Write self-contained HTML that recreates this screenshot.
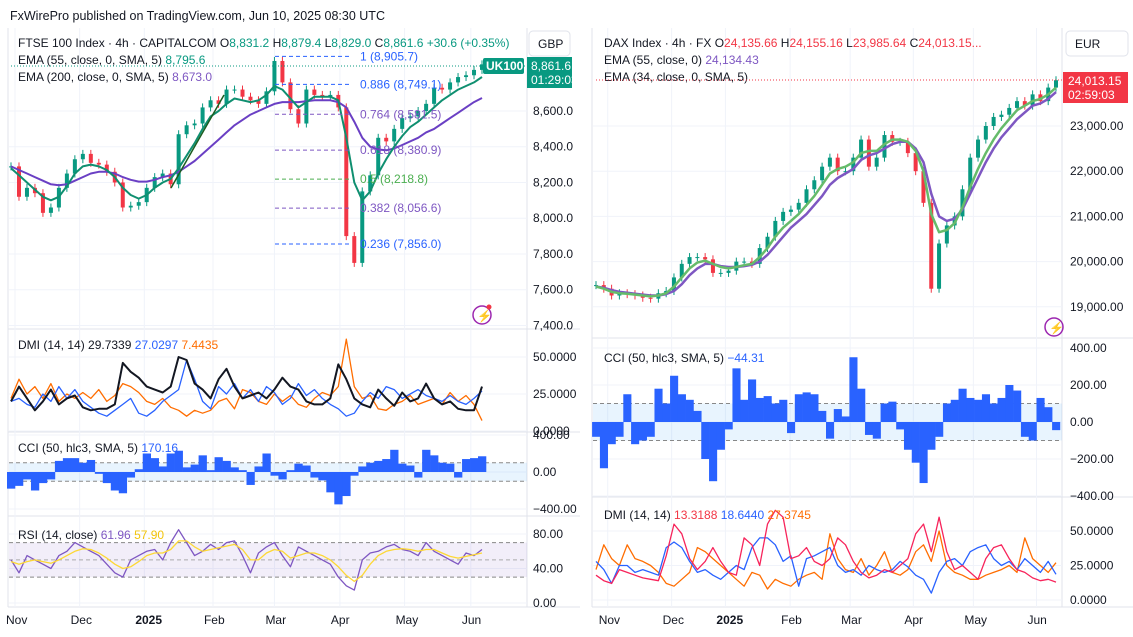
<!DOCTYPE html>
<html><head><meta charset="utf-8">
<style>
html,body{margin:0;padding:0;background:#fff;}
svg{display:block;font-family:"Liberation Sans",sans-serif;}
text{font-size:12px;fill:#131722;}
</style></head>
<body>
<svg id="c" width="1133" height="637" viewBox="0 0 1133 637" xmlns="http://www.w3.org/2000/svg">
<rect x="0" y="0" width="1133" height="637" fill="#fff"/>
<text x="10" y="20" style="font-size:12.5px">FxWirePro published on TradingView.com, Jun 10, 2025 08:30 UTC</text>
<g id="grid"></g>
<g id="marks"></g>
<g id="labels"></g>
<text x="18" y="47">FTSE 100 Index · 4h · CAPITALCOM <tspan>O</tspan><tspan fill="#089981">8,831.2</tspan> H<tspan fill="#089981">8,879.4</tspan> L<tspan fill="#089981">8,829.0</tspan> C<tspan fill="#089981">8,861.6 +30.6 (+0.35%)</tspan></text>
<text x="18" y="64">EMA (55, close, 0, SMA, 5) <tspan fill="#089981">8,795.6</tspan></text>
<text x="18" y="81">EMA (200, close, 0, SMA, 5) <tspan fill="#7e57c2">8,673.0</tspan></text>
<text x="18" y="349">DMI (14, 14) <tspan>29.7339</tspan> <tspan fill="#2962ff">27.0297</tspan> <tspan fill="#ff6d00">7.4435</tspan></text>
<text x="18" y="452">CCI (50, hlc3, SMA, 5) <tspan fill="#2962ff">170.16</tspan></text>
<text x="18" y="539">RSI (14, close) <tspan fill="#7e57c2">61.96</tspan> <tspan fill="#f2c40c">57.90</tspan></text>
<text x="604" y="47">DAX Index · 4h · FX O<tspan fill="#f23645">24,135.66</tspan> H<tspan fill="#f23645">24,155.16</tspan> L<tspan fill="#f23645">23,985.64</tspan> C<tspan fill="#f23645">24,013.15...</tspan></text>
<text x="604" y="64">EMA (55, close, 0) <tspan fill="#7e57c2">24,134.43</tspan></text>
<text x="604" y="81">EMA (34, close, 0, SMA, 5)</text>
<text x="604" y="362">CCI (50, hlc3, SMA, 5) <tspan fill="#2962ff">−44.31</tspan></text>
<text x="604" y="519">DMI (14, 14) <tspan fill="#f23645">13.3188</tspan> <tspan fill="#2962ff">18.6440</tspan> <tspan fill="#ff6d00">27.3745</tspan></text>
<rect x="529" y="31" width="41" height="25" rx="4" fill="#fff" stroke="#e0e3eb"/>
<text x="538" y="48">GBP</text>
<rect x="1066" y="31" width="62" height="25" rx="4" fill="#fff" stroke="#e0e3eb"/>
<text x="1075" y="48">EUR</text>
<line x1="11" y1="66" x2="527" y2="66" stroke="#089981" stroke-dasharray="1,2"/>
<rect x="483" y="58" width="41" height="16" rx="2" fill="#089981"/>
<text x="486" y="70" style="fill:#fff;font-weight:bold">UK100</text>
<rect x="527" y="57" width="45" height="31" fill="#089981"/>
<text x="531" y="70" style="fill:#fff">8,861.6</text>
<text x="531" y="84" style="fill:#fff">01:29:03</text>
<line x1="596" y1="80" x2="1062" y2="80" stroke="#f23645" stroke-dasharray="1,2"/>
<rect x="1063" y="72" width="65" height="31" fill="#f23645"/>
<text x="1068" y="85" style="fill:#fff">24,013.15</text>
<text x="1068" y="99" style="fill:#fff">02:59:03</text>
<circle cx="482" cy="315" r="9" fill="none" stroke="#9c27b0" stroke-width="1.5"/>
<text x="477" y="320" style="fill:#9c27b0;font-size:12px">⚡</text>
<circle cx="489" cy="307" r="2.5" fill="#f23645"/>
<circle cx="1054" cy="327" r="9" fill="none" stroke="#9c27b0" stroke-width="1.5"/>
<text x="1049" y="332" style="fill:#9c27b0">⚡</text>
</svg>
<script>
const ftseClose=[8290,8120,8170,8140,8030,8060,8170,8250,8330,8360,8310,8300,8260,8200,8060,8070,8090,8170,8230,8250,8190,8470,8520,8530,8620,8660,8640,8720,8720,8680,8660,8640,8710,8880,8760,8610,8530,8720,8690,8680,8690,8620,7900,7750,8150,8240,8450,8430,8500,8560,8570,8600,8640,8730,8720,8760,8790,8800,8830,8861];
const ftseEma55=[8280,8240,8200,8160,8120,8100,8120,8180,8250,8290,8300,8290,8270,8230,8170,8130,8110,8130,8170,8200,8220,8280,8350,8420,8500,8570,8600,8640,8670,8660,8650,8660,8690,8740,8720,8670,8620,8650,8680,8680,8680,8660,8450,8200,8100,8150,8250,8330,8400,8460,8510,8540,8580,8620,8660,8690,8720,8740,8760,8790];
const ftseEma200=[8290,8270,8250,8230,8210,8190,8185,8190,8210,8230,8250,8260,8260,8250,8230,8215,8205,8205,8215,8230,8240,8260,8290,8320,8360,8400,8440,8480,8520,8550,8580,8600,8620,8640,8650,8650,8650,8655,8660,8660,8660,8650,8620,8540,8450,8400,8385,8380,8390,8410,8430,8450,8480,8500,8530,8560,8590,8620,8650,8673];
const fibRatios=["1","0.886","0.764","0.618","0.5","0.382","0.236"];
const fibValues=[8905.7,8749.1,8581.5,8380.9,8218.8,8056.6,7856.0];
const fibColors=["#2962ff","#2962ff","#7e57c2","#7e57c2","#4caf50","#7e57c2","#2962ff"];
const dmiAdxL=[20,30,22,14,20,28,18,22,24,16,14,15,15,18,46,40,36,30,28,26,30,50,48,32,28,22,35,42,30,22,24,26,22,28,36,30,28,20,18,18,22,45,35,22,18,16,28,22,17,26,20,22,32,22,18,20,15,14,14,30];
const dmiPlusL=[20,22,18,16,25,20,30,22,28,20,16,12,10,14,18,22,12,10,14,20,24,28,48,35,20,15,30,25,32,22,28,20,30,26,18,22,32,24,28,22,18,15,10,12,20,26,22,30,28,22,25,28,24,22,20,24,20,18,22,27];
const dmiMinusL=[22,35,25,30,22,32,20,25,22,26,22,28,20,24,32,30,26,20,18,22,16,14,10,14,12,14,20,22,15,28,26,20,18,25,20,24,18,16,22,26,24,30,62,30,22,24,15,14,18,20,24,18,20,22,18,26,20,24,18,7];
const cciL=[-180,-150,-80,-200,-120,-80,120,150,150,100,130,-20,-120,-200,-230,-60,30,200,150,60,200,230,50,80,180,20,160,120,50,20,-140,60,200,-40,-80,20,90,70,-60,-90,-220,-350,-260,-40,60,100,120,140,240,90,70,-60,240,180,100,90,-60,140,150,170];
const rsiL=[50,35,55,50,45,40,55,60,70,65,60,55,45,35,30,50,55,60,62,50,70,85,70,55,60,68,62,70,72,55,35,58,65,70,55,42,65,60,55,50,45,30,20,15,50,58,60,65,68,62,60,55,70,60,55,50,45,58,55,62];
const rsiMaL=[48,45,48,50,48,46,50,55,60,63,62,58,52,45,40,42,48,55,58,58,62,72,72,65,60,62,64,66,68,62,50,50,58,62,60,52,55,58,58,55,50,42,32,25,32,45,55,60,62,63,62,60,62,62,58,54,52,54,56,58];
const ftsePriceTicks=[8600,8400,8200,8000,7800,7600,7400];
const ftsePriceTickLabels=["8,600.0","8,400.0","8,200.0","8,000.0","7,800.0","7,600.0","7,400.0"];
const dmiTicks=[50,25,0];
const dmiTickLabels=["50.0000","25.0000","0.0000"];
const cciTicks=[400,0,-400];
const cciTickLabels=["400.00","0.00","−400.00"];
const rsiTicks=[80,40,0];
const rsiTickLabels=["80.00","40.00","0.00"];
const monthLabels=["Nov","Dec","2025","Feb","Mar","Apr","May","Jun"];
const monthPosL=[0.5,8.6,16.7,25.3,33.0,41.2,49.3,57.6];
const daxClose=[19480,19400,19250,19300,19280,19250,19200,19180,19300,19350,19650,19950,20100,20100,20050,19750,19750,19800,20000,20000,19950,20300,20550,20900,21100,21150,21300,21600,21800,22100,22300,22000,22000,22300,22700,22100,22300,22800,22650,22650,22400,22000,21300,19400,20400,20800,21000,21600,22300,22700,23000,23200,23250,23400,23550,23450,23700,23550,23850,24013];
const daxEma34=[19450,19400,19330,19300,19290,19270,19250,19230,19250,19300,19450,19650,19850,19980,20020,19950,19880,19850,19880,19920,19950,20100,20300,20550,20750,20900,21050,21250,21450,21700,21950,22050,22100,22200,22400,22450,22450,22600,22700,22700,22650,22450,22000,21050,20650,20700,20850,21200,21650,22050,22400,22700,22950,23150,23350,23450,23550,23600,23700,23850];
const daxEma55=[19450,19420,19370,19330,19310,19290,19270,19250,19250,19280,19350,19500,19700,19850,19950,19950,19900,19880,19880,19900,19930,20000,20150,20350,20550,20750,20900,21050,21250,21450,21700,21850,21950,22050,22250,22350,22400,22500,22600,22650,22650,22500,22200,21500,21000,20900,20950,21150,21500,21850,22200,22500,22750,22950,23150,23300,23450,23500,23600,23750];
const cciR=[-80,-250,-120,-80,150,-120,-100,-80,180,100,250,150,120,60,-200,-320,-150,-40,290,120,230,130,140,100,120,-60,150,160,150,60,-90,70,30,350,180,-70,-90,100,110,-40,-150,-220,-330,-150,-80,100,120,180,130,120,150,100,130,200,170,-80,-100,130,80,-44];
const dmiRedR=[18,14,12,22,20,18,16,15,14,32,55,48,30,22,28,38,28,20,18,45,40,25,55,65,60,30,32,38,28,25,30,45,40,28,20,16,18,22,20,25,30,48,55,35,60,35,22,25,20,15,30,38,40,30,22,20,16,14,15,13];
const dmiBlueR=[28,22,12,25,25,20,22,20,18,38,42,38,28,20,22,18,15,20,25,22,38,45,45,40,28,32,10,30,32,35,38,25,20,22,18,25,22,20,22,28,24,18,15,5,20,28,30,25,35,38,40,30,25,28,22,30,25,20,28,18.6];
const dmiOrangeR=[22,40,30,25,40,30,28,25,20,12,10,15,20,38,35,30,25,20,15,10,20,18,8,15,12,10,15,18,20,15,48,30,22,20,30,18,25,35,20,18,22,35,40,28,50,25,20,18,15,15,18,20,22,25,20,45,30,25,20,27];
const daxPriceTicks=[23000,22000,21000,20000,19000];
const daxPriceTickLabels=["23,000.00","22,000.00","21,000.00","20,000.00","19,000.00"];
const cciTicksR=[400,200,0,-200,-400];
const cciTickLabelsR=["400.00","200.00","0.00","−200.00","−400.00"];
const dmiTicksR=[50,25,0];
const dmiTickLabelsR=["50.0000","25.0000","0.0000"];
const monthPosR=[1.5,9.7,16.6,24.9,32.6,40.7,48.4,56.5];

const N=60;
const xL=i=>11+i*(471/(N-1));
const yPL=v=>111+(8600-v)*0.1787;
const yDL=v=>431-v*1.48;
const yCL=v=>472-v*0.0925;
const yRL=v=>603-v*0.8625;
const xR=i=>596+i*(460/(N-1));
const yPR=v=>126+(23000-v)*0.0452;
const yCR=v=>422-v*0.185;
const yDR=v=>600-v*1.38;

const NS="http://www.w3.org/2000/svg";
const grid=document.getElementById('grid');
const marks=document.getElementById('marks');
const labels=document.getElementById('labels');
function mk(tag,attrs,parent){const e=document.createElementNS(NS,tag);for(const k in attrs)e.setAttribute(k,attrs[k]);parent.appendChild(e);return e;}

[[8,329],[8,432],[8,516],[8,607]].forEach(s=>{
  const l=mk('line',{x1:s[0],y1:s[1],x2:580,y2:s[1],stroke:'#e0e3eb'},grid);
  
  
});
[[338],[497],[607]].forEach(s=>{
  const l=mk('line',{x1:592,y1:s[0],x2:1133,y2:s[0],stroke:'#e0e3eb'},grid);
  
  
});
[[527,28,607],[8,28,607],[1062,28,607],[592,28,607]].forEach(s=>{
  const l=mk('line',{x1:s[0],y1:s[1],x2:s[0],y2:s[2],stroke:'#e0e3eb'},grid);
  
  
});
monthPosL.forEach(p=>{
  const l=mk('line',{x1:xL(p),y1:28,x2:xL(p),y2:607,stroke:'#f0f3fa'},grid);
  
  
});
monthPosR.forEach(p=>{
  const l=mk('line',{x1:xR(p),y1:28,x2:xR(p),y2:607,stroke:'#f0f3fa'},grid);
  
  
});
function hticks(ticks,lbls,yf,x0,x1,lx,name){
  ticks.forEach((t,k)=>{
    const l=mk('line',{x1:x0,y1:yf(t),x2:x1,y2:yf(t),stroke:'#f0f3fa'},grid);
    
    
    const tx=mk('text',{x:lx,y:yf(t)+4},labels);
    tx.textContent=lbls[k];
    
    
  });
}
hticks(ftsePriceTicks,ftsePriceTickLabels,yPL,9,527,533,'ftse-price');
hticks(dmiTicks,dmiTickLabels,yDL,9,527,533,'dmi-left');
hticks(cciTicks,cciTickLabels,yCL,9,527,533,'cci-left');
hticks(rsiTicks,rsiTickLabels,yRL,9,527,533,'rsi');
hticks(daxPriceTicks,daxPriceTickLabels,yPR,593,1062,1070,'dax-price');
hticks(cciTicksR,cciTickLabelsR,yCR,593,1062,1070,'cci-right');
hticks(dmiTicksR,dmiTickLabelsR,yDR,593,1062,1070,'dmi-right');
monthLabels.forEach((m,k)=>{
  const a=mk('text',{x:xL(monthPosL[k])-9,y:624},labels);
  a.textContent=m;
  if(m==='2025')a.setAttribute('font-weight','bold');
  
  
  const b=mk('text',{x:xR(monthPosR[k])-9,y:624},labels);
  b.textContent=m;
  if(m==='2025')b.setAttribute('font-weight','bold');
  
  
});

function band(x0,x1,y0,y1,fill,name){
  const r=mk('rect',{x:x0,y:Math.min(y0,y1),width:x1-x0,height:Math.abs(y1-y0),fill:fill},grid);
  
  
  [y0,y1].forEach(y=>{
    const l=mk('line',{x1:x0,y1:y,x2:x1,y2:y,stroke:'#888','stroke-dasharray':'4,3'},grid);
    
    
  });
}
band(9,527,yCL(100),yCL(-100),'rgba(33,150,243,0.1)','cci-band-left');
band(9,527,yRL(70),yRL(30),'rgba(126,87,194,0.1)','rsi-band');
const mid=mk('line',{x1:9,y1:yRL(50),x2:527,y2:yRL(50),stroke:'#aaa','stroke-dasharray':'4,3'},grid);


band(593,1062,yCR(100),yCR(-100),'rgba(33,150,243,0.1)','cci-band-right');

function candles(cl,xf,yf,name){
  for(let i=0;i<cl.length;i++){
    const o=i?cl[i-1]:cl[i], c=cl[i];
    const up=c>=o, col=up?'#089981':'#f23645';
    const yt=yf(Math.max(o,c)), yb=yf(Math.min(o,c));
    const w=mk('line',{x1:xf(i),y1:yt-4,x2:xf(i),y2:yb+4,stroke:col},marks);
    
    
    const b=mk('rect',{x:xf(i)-2,y:yt,width:4,height:Math.max(1,yb-yt),fill:col},marks);
    
    
  }
}
function line(arr,xf,yf,col,w,name){
  const p=mk('polyline',{points:arr.map((v,i)=>xf(i).toFixed(1)+','+yf(v).toFixed(1)).join(' '),fill:'none',stroke:col,'stroke-width':w,'stroke-linejoin':'round'},marks);
  
  
}
function bars(arr,xf,yf,col,name){
  const bw=xf(1)-xf(0);
  arr.forEach((v,i)=>{
    const y0=yf(0),y1=yf(v);
    const r=mk('rect',{x:xf(i)-bw/2,y:Math.min(y0,y1),width:bw+0.3,height:Math.abs(y1-y0),fill:col},marks);
    
    
  });
}
candles(ftseClose,xL,yPL,'ftse');
line(ftseEma200,xL,yPL,'#6a3fc4',2,'ftse-ema200-line');
line(ftseEma55,xL,yPL,'#0f8f70',2,'ftse-ema55-line');
const tl=mk('line',{x1:171,y1:188,x2:224,y2:95,stroke:'#1b5e20','stroke-width':1.5},marks);


fibValues.forEach((v,k)=>{
  const l=mk('line',{x1:275,y1:yPL(v),x2:350,y2:yPL(v),stroke:fibColors[k],'stroke-dasharray':'4,3'},marks);
  
  
  const t=mk('text',{x:360,y:yPL(v)+4},labels);
  t.style.fill=fibColors[k];
  t.textContent=fibRatios[k]+' ('+v.toLocaleString('en-US',{minimumFractionDigits:1,maximumFractionDigits:1})+')';
  
  
});
line(dmiMinusL,xL,yDL,'#ff6d00',1.3,'dmi-minus-di-left');
line(dmiPlusL,xL,yDL,'#2962ff',1.3,'dmi-plus-di-left');
line(dmiAdxL,xL,yDL,'#131722',2,'dmi-adx-left');
bars(cciL,xL,yCL,'#2962ff','cci-bar-left');
line(rsiL,xL,yRL,'#7e57c2',1.3,'rsi-line');
line(rsiMaL,xL,yRL,'#fdd835',1.3,'rsi-ma-line');
candles(daxClose,xR,yPR,'dax');
line(daxEma55,xR,yPR,'#7e57c2',2.5,'dax-ema55-line');
line(daxEma34,xR,yPR,'#66bb6a',2.5,'dax-ema34-line');
bars(cciR,xR,yCR,'#2962ff','cci-bar-right');
line(dmiOrangeR,xR,yDR,'#ff6d00',1.3,'dmi-orange-right');
line(dmiBlueR,xR,yDR,'#2962ff',1.3,'dmi-blue-right');
line(dmiRedR,xR,yDR,'#f7245b',1.3,'dmi-red-right');
</script>
</body></html>
